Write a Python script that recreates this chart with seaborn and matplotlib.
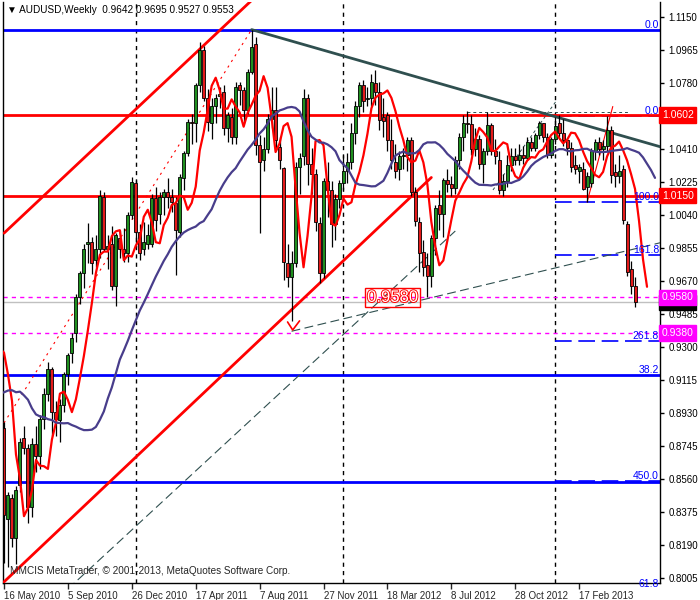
import matplotlib
matplotlib.use("Agg")
import matplotlib.pyplot as plt
import matplotlib.patheffects as pe
import numpy as np
import pandas as pd
import seaborn as sns

# === weekly AUDUSD bars, 16 May 2010 .. 26 May 2013 ===
opens = [0.8850, 0.8340, 0.8455, 0.8230, 0.8530, 0.8790, 0.8735, 0.8405, 0.8760, 0.8690,
         0.8900, 0.9040, 0.9180, 0.8935, 0.8890, 0.8975, 0.9150, 0.9270, 0.9380, 0.9580,
         0.9715, 0.9880, 0.9890, 0.9790, 0.9850, 1.0145, 0.9850, 0.9880, 0.9645, 0.9910,
         0.9850, 0.9830, 1.0040, 1.0219, 0.9948, 0.9850, 0.9880, 0.9880, 1.0135, 1.0050,
         1.0144, 1.0170, 1.0140, 1.0107, 0.9948, 1.0247, 1.0387, 1.0565, 1.0556, 1.0771,
         1.0967, 1.0700, 1.0556, 1.0650, 1.0710, 1.0733, 1.0530, 1.0593, 1.0480, 1.0771,
         1.0740, 1.0630, 1.0845, 1.1000, 1.0434, 1.0350, 1.0410, 1.0580, 1.0630, 1.0425,
         1.0303, 0.9770, 0.9696, 0.9770, 1.0310, 1.0370, 1.0696, 1.0330, 1.0270, 0.9995,
         0.9715, 1.0230, 1.0180, 0.9990, 1.0130, 1.0220, 1.0290, 1.0340, 1.0500, 1.0650,
         1.0770, 1.0690, 1.0700, 1.0780, 1.0730, 1.0590, 1.0600, 1.0460, 1.0340, 1.0300,
         1.0370, 1.0380, 1.0460, 1.0170, 1.0000, 0.9836, 0.9760, 0.9700, 0.9910, 1.0100,
         1.0050, 1.0240, 1.0215, 1.0195, 1.0350, 1.0480, 1.0560, 1.0550, 1.0410, 1.0470,
         1.0330, 1.0400, 1.0546, 1.0400, 1.0350, 1.0180, 1.0230, 1.0320, 1.0370, 1.0350,
         1.0380, 1.0360, 1.0450, 1.0420, 1.0490, 1.0555, 1.0480, 1.0380, 1.0470, 1.0555,
         1.0500, 1.0460, 1.0420, 1.0320, 1.0290, 1.0300, 1.0200, 1.0220, 1.0400, 1.0450,
         1.0410, 1.0430, 1.0520, 1.0280, 1.0260, 1.0300, 0.9994, 0.9740, 0.9642]
highs = [0.8880, 0.8490, 0.8480, 0.8520, 0.8790, 0.8860, 0.8760, 0.8790, 0.8860, 0.8920,
         0.9070, 0.9220, 0.9190, 0.9000, 0.9010, 0.9160, 0.9270, 0.9380, 0.9600, 0.9730,
         0.9880, 0.9995, 0.9920, 0.9930, 1.0180, 1.0170, 0.9930, 0.9980, 0.9940, 0.9960,
         0.9970, 1.0060, 1.0255, 1.0240, 0.9990, 1.0000, 0.9990, 1.0160, 1.0200, 1.0170,
         1.0190, 1.0250, 1.0190, 1.0140, 1.0270, 1.0400, 1.0580, 1.0610, 1.0780, 1.1012,
         1.0990, 1.0750, 1.0700, 1.0720, 1.0760, 1.0770, 1.0620, 1.0640, 1.0790, 1.0790,
         1.0760, 1.0860, 1.1081, 1.1040, 1.0490, 1.0480, 1.0610, 1.0760, 1.0760, 1.0480,
         1.0310, 0.9880, 0.9840, 1.0340, 1.0390, 1.0747, 1.0720, 1.0420, 1.0300, 1.0030,
         1.0250, 1.0340, 1.0230, 1.0160, 1.0240, 1.0380, 1.0390, 1.0560, 1.0680, 1.0790,
         1.0800, 1.0760, 1.0830, 1.0856, 1.0790, 1.0700, 1.0620, 1.0580, 1.0440, 1.0400,
         1.0420, 1.0480, 1.0480, 1.0200, 1.0030, 0.9900, 0.9830, 0.9930, 1.0100, 1.0180,
         1.0250, 1.0300, 1.0260, 1.0370, 1.0500, 1.0600, 1.0624, 1.0600, 1.0530, 1.0490,
         1.0420, 1.0620, 1.0560, 1.0470, 1.0400, 1.0270, 1.0380, 1.0420, 1.0420, 1.0440,
         1.0430, 1.0480, 1.0480, 1.0500, 1.0570, 1.0560, 1.0500, 1.0480, 1.0593, 1.0600,
         1.0580, 1.0470, 1.0450, 1.0380, 1.0330, 1.0340, 1.0280, 1.0420, 1.0470, 1.0480,
         1.0460, 1.0598, 1.0540, 1.0330, 1.0380, 1.0320, 1.0010, 0.9784, 0.9695]
lows = [0.8090, 0.8067, 0.8180, 0.8085, 0.8490, 0.8700, 0.8315, 0.8350, 0.8600, 0.8620,
        0.8840, 0.9000, 0.8800, 0.8800, 0.8770, 0.8940, 0.9090, 0.9210, 0.9330, 0.9540,
        0.9630, 0.9770, 0.9710, 0.9750, 0.9800, 0.9840, 0.9740, 0.9620, 0.9530, 0.9800,
        0.9780, 0.9780, 1.0020, 0.9860, 0.9790, 0.9820, 0.9850, 0.9860, 0.9950, 0.9990,
        1.0040, 1.0080, 1.0060, 0.9705, 0.9920, 1.0180, 1.0370, 1.0440, 1.0450, 1.0730,
        1.0680, 1.0510, 1.0470, 1.0560, 1.0640, 1.0490, 1.0450, 1.0440, 1.0440, 1.0660,
        1.0560, 1.0610, 1.0830, 1.0380, 0.9940, 1.0290, 1.0390, 1.0530, 1.0410, 1.0300,
        0.9680, 0.9640, 0.9450, 0.9750, 1.0160, 1.0320, 1.0210, 1.0160, 0.9950, 0.9663,
        0.9690, 1.0030, 0.9860, 0.9900, 1.0080, 1.0180, 1.0220, 1.0300, 1.0440, 1.0590,
        1.0620, 1.0650, 1.0650, 1.0660, 1.0520, 1.0480, 1.0400, 1.0300, 1.0250, 1.0240,
        1.0300, 1.0290, 1.0150, 0.9980, 0.9720, 0.9700, 0.9581, 0.9640, 0.9820, 0.9960,
        0.9920, 1.0170, 1.0150, 1.0160, 1.0300, 1.0400, 1.0500, 1.0380, 1.0370, 1.0300,
        1.0220, 1.0380, 1.0380, 1.0330, 1.0160, 1.0150, 1.0200, 1.0290, 1.0320, 1.0320,
        1.0330, 1.0350, 1.0400, 1.0400, 1.0470, 1.0450, 1.0360, 1.0360, 1.0440, 1.0480,
        1.0430, 1.0380, 1.0280, 1.0270, 1.0220, 1.0180, 1.0115, 1.0200, 1.0350, 1.0380,
        1.0350, 1.0400, 1.0220, 1.0200, 1.0220, 0.9990, 0.9700, 0.9600, 0.9527]
closes = [0.8360, 0.8470, 0.8230, 0.8500, 0.8770, 0.8735, 0.8405, 0.8760, 0.8690, 0.8900,
          0.9040, 0.9180, 0.8935, 0.8900, 0.8975, 0.9150, 0.9255, 0.9350, 0.9580, 0.9715,
          0.9850, 0.9890, 0.9770, 0.9850, 1.0150, 0.9850, 0.9870, 0.9645, 0.9930, 0.9850,
          0.9830, 1.0040, 1.0225, 0.9948, 0.9830, 0.9890, 0.9930, 1.0135, 1.0014, 1.0144,
          1.0170, 1.0140, 1.0115, 0.9958, 1.0257, 1.0387, 1.0565, 1.0560, 1.0771, 1.0967,
          1.0696, 1.0565, 1.0650, 1.0700, 1.0720, 1.0530, 1.0600, 1.0480, 1.0761, 1.0740,
          1.0630, 1.0845, 1.0985, 1.0434, 1.0340, 1.0410, 1.0580, 1.0630, 1.0460, 1.0350,
          0.9780, 0.9696, 0.9770, 1.0310, 1.0360, 1.0696, 1.0330, 1.0270, 1.0000, 0.9715,
          1.0230, 1.0180, 0.9990, 1.0130, 1.0220, 1.0290, 1.0340, 1.0500, 1.0650, 1.0770,
          1.0680, 1.0700, 1.0790, 1.0730, 1.0575, 1.0570, 1.0460, 1.0350, 1.0290, 1.0370,
          1.0380, 1.0460, 1.0170, 1.0010, 0.9830, 0.9750, 0.9700, 0.9910, 1.0080, 1.0050,
          1.0237, 1.0215, 1.0195, 1.0350, 1.0480, 1.0560, 1.0550, 1.0410, 1.0470, 1.0330,
          1.0400, 1.0546, 1.0400, 1.0370, 1.0180, 1.0230, 1.0320, 1.0370, 1.0350, 1.0380,
          1.0360, 1.0450, 1.0420, 1.0490, 1.0560, 1.0480, 1.0380, 1.0470, 1.0540, 1.0500,
          1.0460, 1.0420, 1.0310, 1.0300, 1.0310, 1.0190, 1.0260, 1.0400, 1.0450, 1.0410,
          1.0430, 1.0520, 1.0265, 1.0260, 1.0290, 1.0013, 0.9723, 0.9642, 0.9553]

# weekly closes before the first visible bar (they feed the moving averages)
pre_closes = [0.9160, 0.9090, 0.9220, 0.9120, 0.8790, 0.8800, 0.8980, 0.9240, 0.9220, 0.9000,
              0.8830, 0.8640, 0.8870, 0.8990, 0.8950, 0.9070, 0.9150, 0.9170, 0.9080, 0.9210,
              0.9330, 0.9250, 0.9300, 0.9260, 0.8880, 0.8860]

first_week = "2010-05-16"
tick_labels = ["16 May 2010", "5 Sep 2010", "26 Dec 2010", "17 Apr 2011", "7 Aug 2011",
               "27 Nov 2011", "18 Mar 2012", "8 Jul 2012", "28 Oct 2012", "17 Feb 2013"]
price_ticks = [1.1150, 1.0965, 1.0780, 1.0595, 1.0410, 1.0225, 1.0040, 0.9855, 0.9670,
               0.9485, 0.9300, 0.9115, 0.8930, 0.8745, 0.8560, 0.8375, 0.8190, 0.8005]
hidden_tick = 1.0595  # sits under the 1.0602 price box

# horizontal levels drawn on the chart
red_levels = [1.0602, 1.0150]
magenta_levels = [0.9580, 0.9380]
bid_price = 0.9553

# fibonacci objects: (high, low) and their levels
fib1_range = (1.1081, 0.6008)
fib1_levels = [0.0, 38.2, 50.0, 61.8]
fib2_range = (1.0598, 1.0115)
fib2_levels = [0.0, 100.0, 161.8, 261.8, 423.6]
fib2_from = "2013-01-06"

# hand drawn trend lines: (date, price) -> (date, price)
channel_up = [("2010-05-16", 0.9940), ("2011-08-07", 1.1287)]
channel_low = [("2010-05-16", 0.7985), ("2012-06-03", 1.0252)]
down_trend = [("2011-07-24", 1.1081), ("2013-07-28", 1.0407)]
mid_dashed = [("2010-09-05", 0.7945), ("2012-07-15", 0.9952)]
support_dashed = [("2011-10-02", 0.9390), ("2013-08-04", 0.9906)]
fib1_diag = [("2010-05-16", 0.8876), ("2011-07-24", 1.1081)]
fib2_diag = [("2013-03-03", 1.0115), ("2013-04-17", 1.0650)]
short_dashed = [("2012-09-19", 1.0182), ("2013-01-09", 1.0686)]
range_top = [("2012-08-04", 1.0621), ("2013-05-13", 1.0621)]
check_mark = [("2011-09-25", 0.9442), ("2011-10-04", 0.9397), ("2011-10-16", 0.9448)]
note_price = ("2012-03-27", 0.9580)

start = pd.Timestamp(first_week)
dates = pd.date_range(start, periods=len(closes), freq="7D")


def wk(d):
    return (pd.Timestamp(d) - start).days / 7.0


sns.set_style("white")
plt.rcParams["font.family"] = ["Liberation Sans", "DejaVu Sans"]

fig = plt.figure(figsize=(7, 6), dpi=100)
ax = fig.add_axes([3 / 700, 17 / 600, 657 / 700, 581 / 600])
ax.set_xlim(-0.25, 164.25)
ax.set_ylim(0.79787, 1.12358)

x = np.arange(len(closes))
o = np.array(opens)
h = np.array(highs)
l = np.array(lows)
c = np.array(closes)

# --- horizontal objects ---
for lv in red_levels:
    ax.axhline(lv, color="#FF0000", lw=2, zorder=1.5)
for lv in magenta_levels:
    ax.axhline(lv, color="#FF00FF", lw=1, ls=(0, (3, 3)), zorder=1.5)
ax.axhline(bid_price, color="#C0C0C0", lw=1, zorder=1.2)

hi1, lo1 = fib1_range
for lv in fib1_levels:
    ax.axhline(hi1 - lv / 100 * (hi1 - lo1), color="#0000FF", lw=2, zorder=1.4)
hi2, lo2 = fib2_range
for lv in fib2_levels:
    y = hi2 - lv / 100 * (hi2 - lo2)
    ax.plot([wk(fib2_from), 164.5], [y, y], color="#0000FF", lw=1.2,
            ls=(0, (10, 4)), zorder=1.3)

lab_x = 164.0
fib_lab = dict(color="#0000FF", fontsize=7.5, ha="right", va="bottom", zorder=6)
ax.text(lab_x, hi1, "0.0", **fib_lab)
ax.text(lab_x, hi1 - 0.382 * (hi1 - lo1), "38.2", **fib_lab)
ax.text(lab_x, hi2 - 4.236 * (hi2 - lo2), "450.0", **fib_lab)
ax.text(lab_x, hi1 - 0.618 * (hi1 - lo1), "61.8", **fib_lab)
ax.text(lab_x, hi2, "0.0", **fib_lab)
ax.text(lab_x, lo2, "100.0", **fib_lab)
ax.text(lab_x, hi2 - 1.618 * (hi2 - lo2), "161.8", **fib_lab)
ax.text(lab_x, hi2 - 2.618 * (hi2 - lo2), "261.8", **fib_lab)

# year separators
yr = pd.Series(dates.year)
for d in dates[(yr != yr.shift()).values][1:]:
    ax.axvline(wk(d), color="black", lw=1, ls=(0, (3, 3)), zorder=1.1)


# --- trend lines ---
def seg(pts, **kw):
    ax.plot([wk(d) for d, _ in pts], [p for _, p in pts], **kw)


seg(channel_up, color="#FF0000", lw=2, zorder=2.6)
seg(channel_low, color="#FF0000", lw=2, zorder=2.6)
seg(down_trend, color="#2F4F4F", lw=2, zorder=2.6)
seg(mid_dashed, color="#2F4F4F", lw=0.8, ls=(0, (8, 4)), zorder=2.6)
seg(support_dashed, color="#2F4F4F", lw=0.8, ls=(0, (8, 4)), zorder=2.6)
seg(short_dashed, color="#2F4F4F", lw=0.7, ls=(0, (3, 3)), zorder=2.6)
seg(range_top, color="#2F4F4F", lw=0.7, ls=(0, (3, 3)), zorder=2.6)
seg([range_top[0], (range_top[0][0], 1.0575)], color="#2F4F4F", lw=0.7,
    ls=(0, (3, 3)), zorder=2.6)
seg(fib1_diag, color="#FF0000", lw=0.8, ls=(0, (2, 4)), zorder=2.6)
seg(fib2_diag, color="#FF0000", lw=0.8, zorder=2.6)
seg(check_mark, color="#FF0000", lw=1.2, zorder=2.6)

# --- candles ---
ax.vlines(x, l, h, color="black", lw=0.9, zorder=3)
up = c >= o
dn = ~up
ax.bar(x[up], np.maximum(c - o, 0.0003)[up], bottom=o[up], width=0.75,
       color="#1F8F1F", edgecolor="black", lw=0.6, zorder=3.2)
ax.bar(x[dn], (o - c)[dn], bottom=c[dn], width=0.75,
       color="#E31A1A", edgecolor="black", lw=0.6, zorder=3.2)

# --- moving averages (shifted forward like the terminal does) ---
allc = pd.Series(pre_closes + closes)
pos = np.arange(-len(pre_closes), len(closes))
fast = allc.rolling(3).mean()
slow = allc.rolling(21).mean()
sns.lineplot(x=pos + 3, y=fast.values, ax=ax, color="#FF0000", lw=1.6,
             sort=False, zorder=4)
sns.lineplot(x=pos + 5, y=slow.values, ax=ax, color="#483D8B", lw=1.6,
             sort=False, zorder=4)

# price note on the chart
ax.text(wk(note_price[0]), note_price[1], f"{note_price[1]:.4f}", fontsize=12,
        color="white", ha="center", va="center", zorder=6,
        path_effects=[pe.withStroke(linewidth=1.4, foreground="#FF0000")],
        bbox=dict(boxstyle="square,pad=0.1", fc="none", ec="#FF0000", lw=1))

# --- price labels on the axis ---
box_x = 1.0 + 2 / 657
tr = ax.get_yaxis_transform()
# (price, colour, layer); the bid box peeks out from under the 0.9580 box
axis_boxes = [(red_levels[0], "#FF0000", 7), (red_levels[1], "#FF0000", 7),
              (bid_price, "black", 6.5), (magenta_levels[0], "#FF00FF", 7),
              (magenta_levels[1], "#FF00FF", 7)]
for lv, col, z in axis_boxes:
    ax.text(box_x, lv, f"{lv:.4f}", transform=tr, fontsize=7.5, color="white",
            ha="left", va="center", zorder=z, clip_on=False,
            bbox=dict(boxstyle="square,pad=0.25", fc=col, ec=col))

# --- axes styling ---
ax.yaxis.tick_right()
ax.set_yticks(price_ticks)
ax.set_yticklabels(["" if t == hidden_tick else f"{t:.4f}" for t in price_ticks])
ax.tick_params(axis="y", which="both", right=True, left=False, length=3,
               width=1, pad=3, labelsize=7, colors="black")
for lbl in ax.get_yticklabels():
    lbl.set_horizontalalignment("left")

ax.set_xticks([wk(pd.Timestamp(t)) for t in tick_labels])
ax.set_xticklabels(tick_labels)
ax.tick_params(axis="x", bottom=True, length=4, width=1, pad=2, labelsize=7)
for lbl in ax.get_xticklabels():
    lbl.set_horizontalalignment("left")

for side in ["left", "right", "bottom"]:
    ax.spines[side].set_color("black")
    ax.spines[side].set_linewidth(1)
ax.spines["top"].set_visible(False)
ax.set_xlabel("")
ax.set_ylabel("")

fig.text(7 / 700, 1 - 10 / 600,
         "\u25bc AUDUSD,Weekly  0.9642 0.9695 0.9527 0.9553",
         fontsize=7.2, va="center", ha="left", color="black")
ax.text(7 / 657, 0.012,
        "MMCIS MetaTrader, \u00a9 2001-2013, MetaQuotes Software Corp.",
        transform=ax.transAxes, fontsize=7.2, va="bottom", ha="left", zorder=6)

fig.savefig("out.png", dpi=100)
